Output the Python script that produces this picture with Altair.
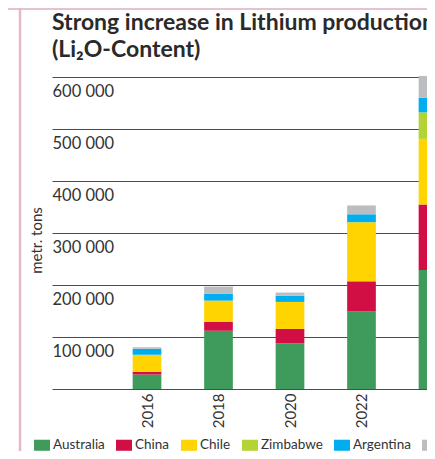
import altair as alt
import pandas as pd

years = [2016, 2018, 2020, 2022, 2024]
countries = ["Australia", "China", "Chile", "Zimbabwe", "Argentina", "others"]
colors = ["#3f9b5c", "#d20f44", "#ffd400", "#b4d335", "#00aeef", "#bcbdc1"]
australia = [28000, 112000, 88000, 149000, 229000]
china = [5000, 17000, 27500, 58000, 126000]
chile = [33000, 41000, 52000, 113000, 126000]
zimbabwe = [0, 0, 0, 1000, 51000]
argentina = [11500, 13000, 12000, 15000, 28000]
others = [3000, 14000, 6000, 17000, 42000]
tick_values = [0, 100000, 200000, 300000, 400000, 500000, 600000]
title_lines = ["Strong increase in Lithium production", "(Li\u2082O-Content)"]
y_title = "metr. tons"

series = [australia, china, chile, zimbabwe, argentina, others]
rows = []
for ci, (name, vals) in enumerate(zip(countries, series)):
    for y, v in zip(years, vals):
        rows.append({"year": y, "country": name, "value": v, "order": ci})
df = pd.DataFrame(rows)

FONT = "Lato"
TXT = "#333333"
PLOT_W = 375
PX_PER_YEAR = 35.75
X0 = 2016 - 95 / PX_PER_YEAR
X1 = X0 + PLOT_W / PX_PER_YEAR

bars = alt.Chart(df).mark_bar(width=28.7).encode(
    x=alt.X(
        "year:Q",
        scale=alt.Scale(domain=[X0, X1], nice=False, zero=False, padding=0),
        axis=alt.Axis(
            values=years, format="d", labelAngle=270, labelAlign="right",
            labelBaseline="middle", labelPadding=4, labelFontSize=15,
            labelFont=FONT, labelColor=TXT, domain=False, ticks=False,
            tickSize=0, grid=False, title=None, labelFlush=False,
            labelOverlap=False,
        ),
    ),
    y=alt.Y(
        "value:Q",
        stack="zero",
        scale=alt.Scale(domain=[0, 600000], nice=False, padding=0),
        axis=alt.Axis(
            values=tick_values, grid=True, gridColor="#4d4d4d", gridWidth=1,
            domain=False, ticks=False, tickSize=0, labelAlign="left",
            labelPadding=0, labelBaseline="alphabetic", labelOffset=19,
            labelFontSize=16.5, labelColor=TXT, labelFont=FONT,
            labelFlush=False, labelOverlap=False,
            labelExpr="datum.value == 0 ? '' : replace(format(datum.value, ',d'), ',', ' ')",
            title=y_title, titleAngle=270, titleX=-16, titleY=163,
            titleAlign="center", titleBaseline="middle", titleFont=FONT,
            titleFontSize=15, titleFontWeight="normal", titleColor=TXT,
        ),
    ),
    color=alt.Color(
        "country:N",
        scale=alt.Scale(domain=countries, range=colors),
        legend=alt.Legend(
            orient="none", legendX=-18, legendY=360, direction="horizontal",
            title=None, symbolType="M-1,-0.69H1V0.69H-1Z", symbolSize=256,
            symbolStrokeWidth=0, symbolOpacity=1, labelFont=FONT,
            labelFontSize=13.5, labelColor=TXT, labelOffset=3,
            columnPadding=11,
        ),
    ),
    order=alt.Order("order:Q", sort="ascending"),
)

t1 = alt.Chart(pd.DataFrame({"t": [title_lines[0]]})).mark_text(
    font=FONT, fontSize=23, fontWeight="bold", color="#2a2a2a",
    align="left", baseline="alphabetic",
).encode(text="t:N", x=alt.value(0), y=alt.value(-47))

t2 = alt.Chart(pd.DataFrame({"t": [title_lines[1]]})).mark_text(
    font=FONT, fontSize=23, fontWeight="bold", color="#2a2a2a",
    align="left", baseline="alphabetic",
).encode(text="t:N", x=alt.value(0), y=alt.value(-20))

frame_v = alt.Chart(pd.DataFrame({"a": [0]})).mark_rule(
    color="#e4b8ca", strokeWidth=2.5
).encode(x=alt.value(-32), y=alt.value(-80), y2=alt.value(400))

frame_h = alt.Chart(pd.DataFrame({"a": [0]})).mark_rule(
    color="#e4c2d0", strokeWidth=2
).encode(y=alt.value(-68), x=alt.value(-60), x2=alt.value(400))

chart = alt.layer(bars, t1, t2, frame_h, frame_v).properties(
    width=PLOT_W,
    height=312,
    autosize=alt.AutoSizeParams(type="none"),
    padding={"left": 44, "top": 69, "right": 0, "bottom": 62},
    background="white",
).configure_view(strokeWidth=0)

chart.save("out.html", embed_options={"renderer": "svg", "actions": False})
